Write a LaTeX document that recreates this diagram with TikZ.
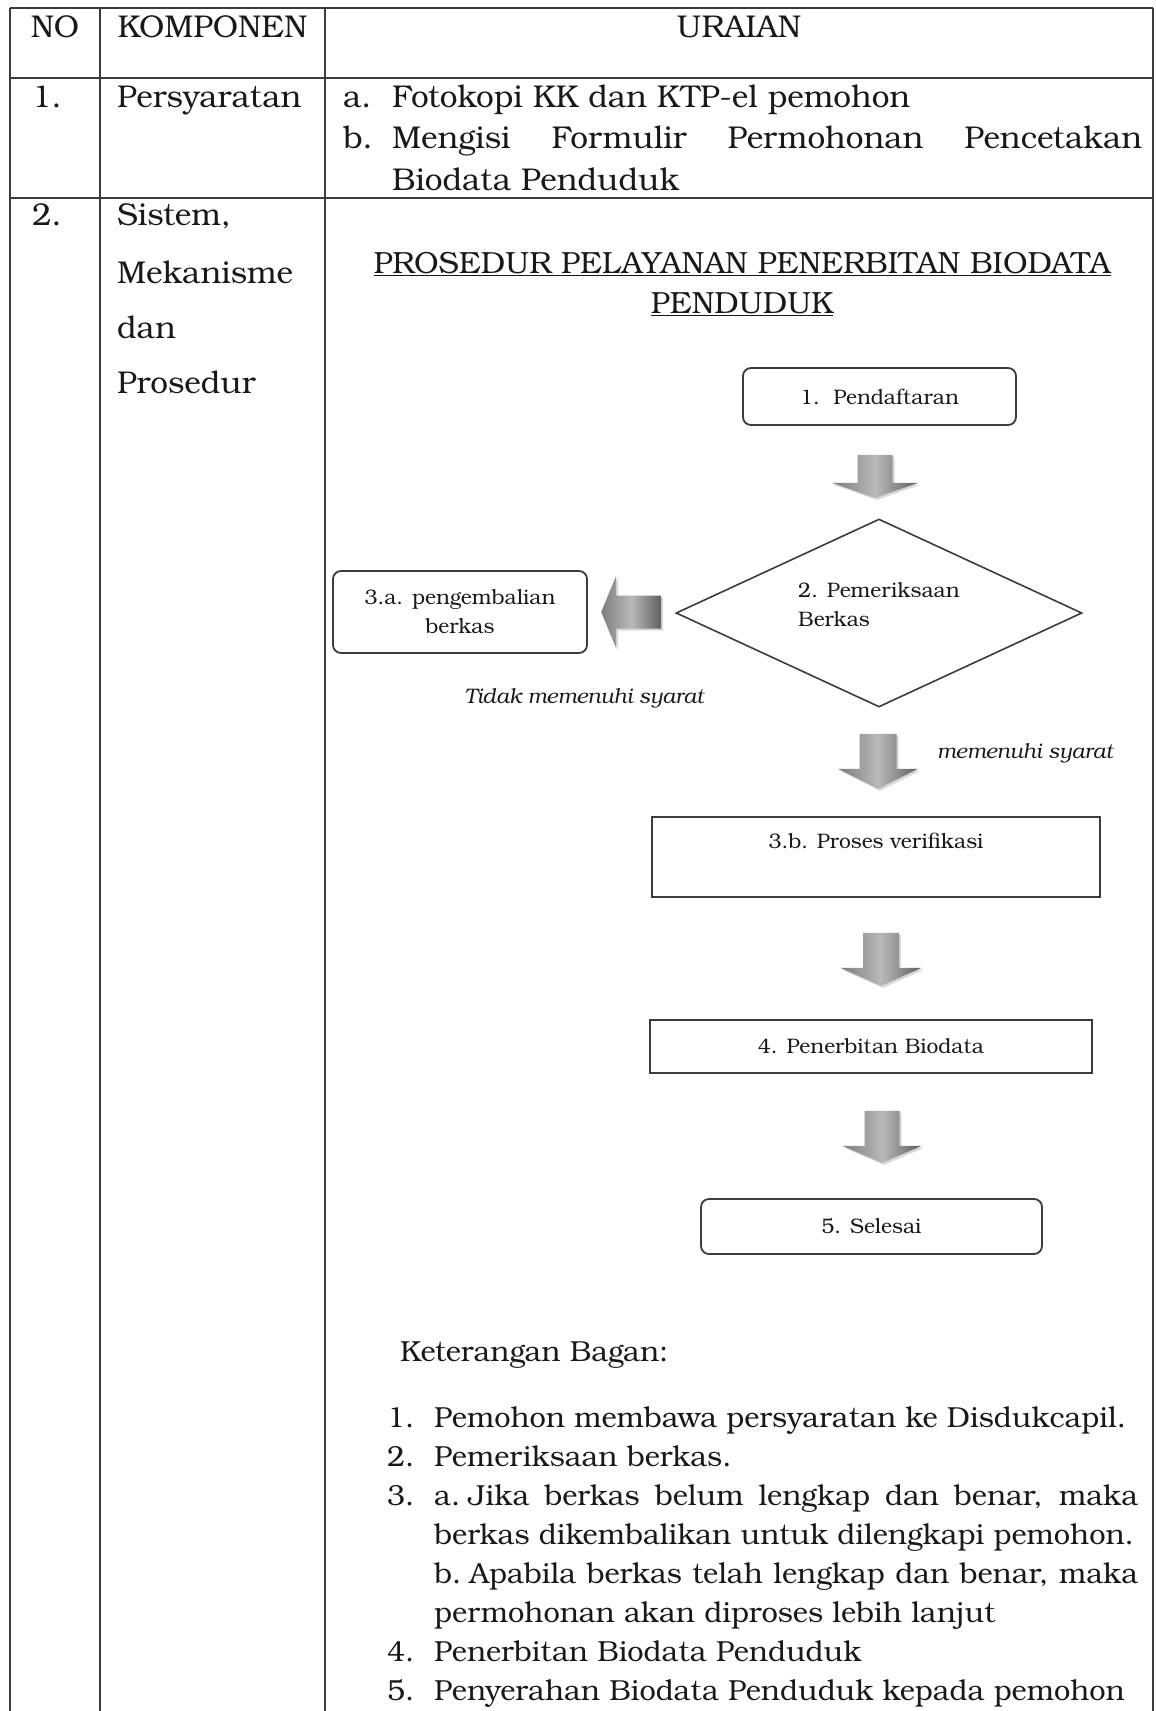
\documentclass[tikz,border=0pt]{standalone}
\usepackage{fontspec}
\setmainfont{TeX Gyre Bonum}
\usetikzlibrary{positioning, shapes.geometric, shadows, calc}
\definecolor{inkgray}{RGB}{25,25,25}
\definecolor{rulegray}{RGB}{60,60,60}
\definecolor{arrowlite}{RGB}{185,185,185}
\definecolor{arrowmid}{RGB}{125,125,125}
\definecolor{arrowdark}{RGB}{95,95,95}

\begin{document}
\begin{tikzpicture}[
  x=1pt, y=-1pt,
  every node/.style={inner sep=0pt, text=inkgray},
  rule/.style={draw=rulegray, line width=1.6pt},
  hdr/.style={anchor=base, font=\fontsize{31.5}{36}\selectfont},
  cell/.style={anchor=base west, font=\fontsize{31.5}{36}\selectfont},
  ttl/.style={anchor=base, font=\fontsize{30.6}{36}\selectfont},
  item/.style={anchor=base west, font=\fontsize{29}{36}\selectfont},
  rbox/.style={draw=rulegray, line width=1.8pt, rounded corners=8pt,
               align=center, font=\fontsize{21}{29}\selectfont},
  sbox/.style={draw=rulegray, line width=1.8pt,
               font=\fontsize{21}{29}\selectfont},
  decision/.style={diamond, aspect=2.2, draw=rulegray, line width=1.6pt},
  dtext/.style={align=left, font=\fontsize{21}{29}\selectfont, yshift=8pt},
  note/.style={font=\fontsize{21}{25}\selectfont\itshape},
  pics/blockarrow/.style n args={4}{code={
    \path[left color=arrowmid, right color=arrowdark, middle color=arrowlite,
          drop shadow={shadow xshift=2pt, shadow yshift=-2pt, opacity=0.3}]
      (-#3,0) -- (#3,0) -- (#3,#1) -- (#4,#1) -- (0,#1+#2)
      -- (-#4,#1) -- (-#3,#1) -- cycle;
  }}
]

\useasboundingbox (0,0) rectangle (1156,1711);
\fill[white] (0,0) rectangle (1156,1711);

% ── Table frame ──────────────────────────────────────────────────────────────
\draw[rule] (10,8) -- (1153,8);
\draw[rule] (10,78) -- (1153,78);
\draw[rule] (10,198) -- (1153,198);
\draw[rule] (10,8) -- (10,1711);
\draw[rule] (100,8) -- (100,1711);
\draw[rule] (325,8) -- (325,1711);
\draw[rule] (1153,8) -- (1153,1711);

% ── Header ───────────────────────────────────────────────────────────────────
\node[hdr] (hno)    at (55,37)    {NO};
\node[hdr] (hkomp)  at (212.5,37) {KOMPONEN};
\node[hdr] (hurai)  at (739,37)   {URAIAN};

% ── Row 1 ────────────────────────────────────────────────────────────────────
\node[cell] (no1)   at (32,107)  {1.};
\node[cell] (persy) at (117,107) {Persyaratan};
\node[cell] (pa)    at (343,107) {a.};
\node[cell] (paitem) at (392,107) {Fotokopi KK dan KTP-el pemohon};
\node[cell] (pb)    at (343,148) {b.};
\node[cell] (pbitem) at (392,148)
  {\makebox[750pt][s]{Mengisi Formulir Permohonan Pencetakan}};
\node[cell] (pbcont) at (392,190) {Biodata Penduduk};

% ── Row 2, left cells ────────────────────────────────────────────────────────
\node[cell] (no2)  at (32,225)  {2.};
\node[cell] (sis)  at (117,225) {Sistem,};
\node[cell] (mek)  at (117,283) {Mekanisme};
\node[cell] (dan)  at (117,338) {dan};
\node[cell] (pros) at (117,393) {Prosedur};

% ── Title ────────────────────────────────────────────────────────────────────
\node[ttl] (ttl1) at (742,273) {\underline{PROSEDUR PELAYANAN PENERBITAN BIODATA}};
\node[ttl] (ttl2) at (742,313) {\underline{PENDUDUK}};

% ── Flow nodes ───────────────────────────────────────────────────────────────
\node[rbox, minimum width=273pt, minimum height=57pt] (daftar)
  at (879.5,396.5) {1.\ \ Pendaftaran};

\node[decision, minimum width=406pt, minimum height=188pt,
      label={[dtext]center:{2. Pemeriksaan\\Berkas}}] (periksa)
  at (879,613) {};

\node[rbox, minimum width=254pt, minimum height=82pt] (kembali)
  at (460,612) {3.a. pengembalian\\berkas};

\node[note, anchor=base] (tidak) at (584,703) {Tidak memenuhi syarat};
\node[note, anchor=base west] (memenuhi) at (937,758) {memenuhi syarat};

\node[sbox, minimum width=448pt, minimum height=80pt,
      text height=14pt, text depth=32pt] (verif)
  at (876,857) {3.b. Proses verifikasi};

\node[sbox, minimum width=442pt, minimum height=53pt] (terbit)
  at (871,1046.5) {4. Penerbitan Biodata};

\node[rbox, minimum width=341pt, minimum height=55pt] (selesai)
  at (871.5,1226.5) {5. Selesai};

% ── Block arrows ─────────────────────────────────────────────────────────────
\pic at ($(daftar.south)+(-4.5,29)$) {blockarrow={28}{15}{17.5}{43}};
\pic[rotate=-90] at ($(periksa.west)+(-14,-1)$) {blockarrow={45}{15}{16.5}{36.5}};
\pic at ($(periksa.south)+(-1,26)$) {blockarrow={35}{20}{18.5}{40}};
\pic at ($(verif.south)+(5,35)$) {blockarrow={35}{18}{18}{40.5}};
\pic at ($(terbit.south)+(11,37)$) {blockarrow={35}{17}{17.5}{39.5}};

% ── Keterangan ───────────────────────────────────────────────────────────────
\node[item] (ket) at (400,1361) {Keterangan Bagan:};

\node[item] (k1n) at (387,1427) {1.};
\node[item] (k1)  at (434,1427) {Pemohon membawa persyaratan ke Disdukcapil.};
\node[item] (k2n) at (387,1466) {2.};
\node[item] (k2)  at (434,1466) {Pemeriksaan berkas.};
\node[item] (k3n) at (387,1505) {3.};
\node[item] (k3a) at (434,1505)
  {\makebox[704pt][s]{a.\hspace{8pt}Jika berkas belum lengkap dan benar, maka}};
\node[item] (k3b) at (434,1544) {berkas dikembalikan untuk dilengkapi pemohon.};
\node[item] (k3c) at (434,1583)
  {\makebox[704pt][s]{b.\hspace{8pt}Apabila berkas telah lengkap dan benar, maka}};
\node[item] (k3d) at (434,1622) {permohonan akan diproses lebih lanjut};
\node[item] (k4n) at (387,1661) {4.};
\node[item] (k4)  at (434,1661) {Penerbitan Biodata Penduduk};
\node[item] (k5n) at (387,1700) {5.};
\node[item] (k5)  at (434,1700) {Penyerahan Biodata Penduduk kepada pemohon};

\end{tikzpicture}
\end{document}
